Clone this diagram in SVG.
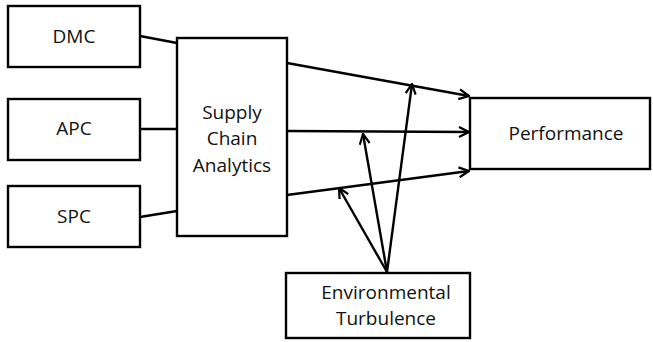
<svg xmlns="http://www.w3.org/2000/svg" width="653" height="342" viewBox="0 0 653 342">
<style>
.box{fill:#fff;stroke:#000;stroke-width:2.4}
.t{font-family:"Open Sans",sans-serif;font-size:19px;fill:#111;text-anchor:middle}
.c{stroke:#000;stroke-width:2.4;fill:none}
</style>
<defs>
<marker id="ah" viewBox="0 0 12 12" refX="11" refY="6" markerWidth="12" markerHeight="12" markerUnits="userSpaceOnUse" orient="auto">
<path d="M1,1 L11,6 L1,11" fill="none" stroke="#000" stroke-width="2.2"/>
</marker>
</defs>
<rect width="653" height="342" fill="#fff"/>
<g id="connectors">
<line class="c" x1="140" y1="36" x2="177" y2="43"/>
<line class="c" x1="140" y1="129" x2="177" y2="129"/>
<line class="c" x1="140" y1="217" x2="177" y2="211"/>
<line class="c" x1="287" y1="63" x2="469" y2="96" marker-end="url(#ah)"/>
<line class="c" x1="287" y1="131" x2="469" y2="132" marker-end="url(#ah)"/>
<line class="c" x1="287" y1="195" x2="469" y2="171" marker-end="url(#ah)"/>
<line class="c" x1="387" y1="272" x2="412" y2="84" marker-end="url(#ah)"/>
<line class="c" x1="387" y1="272" x2="363" y2="134" marker-end="url(#ah)"/>
<line class="c" x1="387" y1="272" x2="339" y2="188" marker-end="url(#ah)"/>
</g>
<g id="dmc"><rect class="box" x="8" y="6" width="132" height="61"/><text class="t" x="74" y="43">DMC</text></g>
<g id="apc"><rect class="box" x="8" y="99" width="132" height="61"/><text class="t" x="74" y="135">APC</text></g>
<g id="spc"><rect class="box" x="8" y="186" width="132" height="61"/><text class="t" x="74" y="223">SPC</text></g>
<g id="sca"><rect class="box" x="177" y="38" width="110" height="198"/><text class="t" x="232" y="119">Supply</text><text class="t" x="232" y="145">Chain</text><text class="t" x="232" y="172">Analytics</text></g>
<g id="performance"><rect class="box" x="470" y="98" width="180" height="71"/><text class="t" x="566" y="140">Performance</text></g>
<g id="env"><rect class="box" x="286" y="273" width="184" height="65"/><text class="t" x="386" y="299">Environmental</text><text class="t" x="386" y="325">Turbulence</text></g>
</svg>
